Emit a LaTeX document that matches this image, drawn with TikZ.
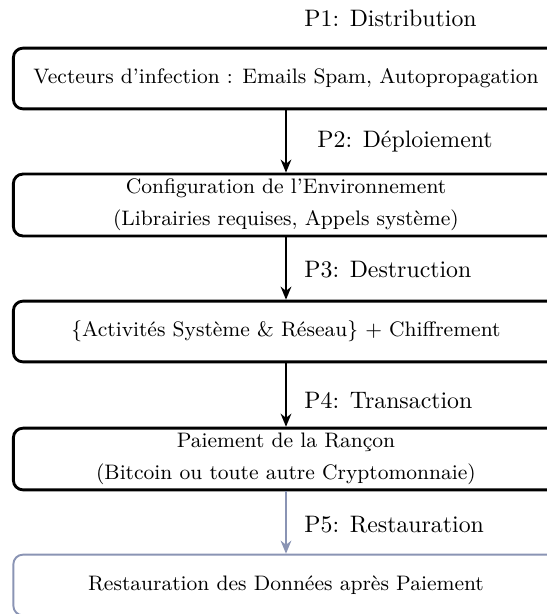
\documentclass[tikz,border=0pt]{standalone}
\usetikzlibrary{arrows.meta}
\definecolor{mutedblue}{RGB}{138,148,180}
\tikzset{
  stage/.style={draw, very thick, rounded corners=4pt, minimum width=229pt,
    minimum height=25.5pt, align=center, font=\fontsize{8.8}{10.6}\selectfont, inner sep=2pt},
  laststage/.style={stage, draw=mutedblue, thick},
  flow/.style={thick, -{Stealth[length=5.5pt,width=4.5pt]}},
  lateflow/.style={flow, draw=mutedblue},
  phase/.style={anchor=west, inner sep=0pt, font=\normalsize}
}
\begin{document}
\begin{tikzpicture}[x=0.42pt, y=-0.42pt]
  \useasboundingbox (0,0) rectangle (547,614);

  % process stages
  \node[stage] (s1) at (286,78.5) {Vecteurs d'infection : Emails Spam, Autopropagation};
  \node[stage] (s2) at (286,205) {Configuration de l'Environnement\\[3pt](Librairies requises, Appels système)};
  \node[stage] (s3) at (286,331.5) {\{Activités Système \& Réseau\} + Chiffrement};
  \node[stage] (s4) at (286,459) {Paiement de la Rançon\\[3pt](Bitcoin ou toute autre Cryptomonnaie)};
  \node[laststage] (s5) at (286,585) {Restauration des Données après Paiement};

  % phase labels
  \node[phase] (p1) at (304,18) {P1: Distribution};
  \node[phase] (p2) at (317,141) {P2: Déploiement};
  \node[phase] (p3) at (304,270) {P3: Destruction};
  \node[phase] (p4) at (304,400) {P4: Transaction};
  \node[phase] (p5) at (304,525) {P5: Restauration};

  % transitions
  \draw[flow] (s1) -- (s2);
  \draw[flow] (s2) -- (s3);
  \draw[flow] (s3) -- (s4);
  \draw[lateflow] (s4) -- (s5);
\end{tikzpicture}
\end{document}
